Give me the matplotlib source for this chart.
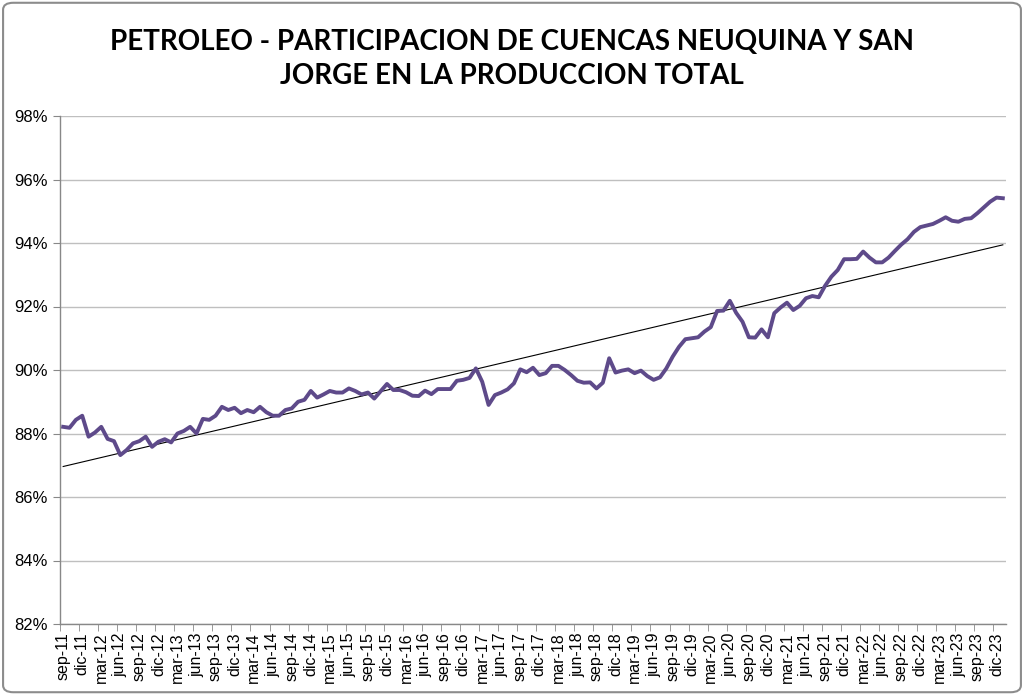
import matplotlib
matplotlib.use("Agg")
import matplotlib.pyplot as plt
import numpy as np
from matplotlib.patches import FancyBboxPatch
from matplotlib.ticker import FuncFormatter

# ---- data ----
month_abbr = ["ene", "feb", "mar", "abr", "may", "jun", "jul", "ago", "sep", "oct", "nov", "dic"]
start_year = 2011
start_month = 9  # sep-11

participacion = [
    88.21, 88.18, 88.43, 88.56, 87.90, 88.03, 88.21, 87.83, 87.76, 87.32,
    87.48, 87.69, 87.76, 87.90, 87.58, 87.74, 87.82, 87.72, 88.00, 88.08,
    88.21, 88.00, 88.46, 88.43, 88.56, 88.84, 88.74, 88.81, 88.64, 88.74,
    88.67, 88.84, 88.67, 88.56, 88.56, 88.74, 88.79, 89.00, 89.06, 89.34,
    89.13, 89.23, 89.34, 89.29, 89.29, 89.42, 89.34, 89.23, 89.29, 89.10,
    89.33, 89.56, 89.37, 89.37, 89.30, 89.19, 89.18, 89.35, 89.24, 89.40,
    89.40, 89.40, 89.66, 89.69, 89.75, 90.05, 89.63, 88.90, 89.21, 89.29,
    89.39, 89.58, 90.02, 89.93, 90.07, 89.84, 89.90, 90.13, 90.13, 90.00,
    89.84, 89.66, 89.60, 89.61, 89.42, 89.60, 90.37, 89.92, 89.98, 90.02,
    89.90, 89.98, 89.81, 89.69, 89.77, 90.05, 90.42, 90.73, 90.97, 91.00,
    91.03, 91.21, 91.35, 91.86, 91.87, 92.18, 91.80, 91.52, 91.03, 91.02,
    91.28, 91.03, 91.79, 91.97, 92.12, 91.89, 92.02, 92.26, 92.33, 92.29,
    92.65, 92.94, 93.15, 93.49, 93.49, 93.50, 93.73, 93.54, 93.39, 93.39,
    93.54, 93.75, 93.95, 94.12, 94.35, 94.50, 94.55, 94.60, 94.70, 94.81,
    94.70, 94.67, 94.76, 94.78, 94.94, 95.12, 95.30, 95.43, 95.41,
]

n = len(participacion)
labels = []
for k in range(n):
    m = (start_month - 1 + k) % 12
    y = start_year + (start_month - 1 + k) // 12
    labels.append(f"{month_abbr[m]}-{y % 100:02d}")

title = "PETROLEO - PARTICIPACION DE CUENCAS NEUQUINA Y SAN\nJORGE EN LA PRODUCCION TOTAL"

# ---- figure ----
fig = plt.figure(figsize=(10.24, 6.95), dpi=100)
ax = fig.add_axes([60 / 1024, 1 - 624 / 695, (1006 - 60) / 1024, (624 - 116) / 695])

x = np.arange(n)
vals = np.array(participacion)
ax.plot(x, vals, color="#5E4A8A", lw=2.8, solid_joinstyle="round", zorder=3)

# linear trendline
coef = np.polyfit(x, vals, 1)
ax.plot(x, np.polyval(coef, x), color="black", lw=0.8, zorder=2)

ax.set_xlim(-0.5, n - 0.5)
ax.set_ylim(82, 98)
ax.set_yticks(np.arange(82, 98.1, 2))
ax.yaxis.set_major_formatter(FuncFormatter(lambda v, p: f"{v:.0f}%"))
ax.grid(axis="y", color="#BFBFBF", lw=1.0)
ax.set_axisbelow(True)

tick_idx = list(range(0, n, 3))
ax.set_xticks(tick_idx)
ax.set_xticklabels([labels[i] for i in tick_idx], rotation=90, fontsize=11.5,
                   family="Liberation Sans")
ax.set_xticks(np.arange(-0.5, n, 3), minor=True)
ax.tick_params(axis="x", which="major", length=0, pad=6)
ax.tick_params(axis="x", which="minor", length=5, color="#888888", direction="out")
ax.tick_params(axis="y", length=5, color="#888888", labelsize=12, pad=4)
for lab in ax.get_yticklabels():
    lab.set_family("Liberation Sans")

for s in ["top", "right"]:
    ax.spines[s].set_visible(False)
for s in ["left", "bottom"]:
    ax.spines[s].set_color("#888888")
    ax.spines[s].set_linewidth(1.0)

fig.text(0.5, 1 - 59 / 695, title, ha="center", va="center", fontsize=20,
         fontweight="bold", family="Lato", linespacing=1.4)

border = FancyBboxPatch((0.003, 0.004), 0.994, 0.992, boxstyle="round,pad=0,rounding_size=0.01",
                        transform=fig.transFigure, fill=False, edgecolor="#8C8C8C", lw=1.5)
fig.patches.append(border)

fig.savefig("out.png", dpi=100)
